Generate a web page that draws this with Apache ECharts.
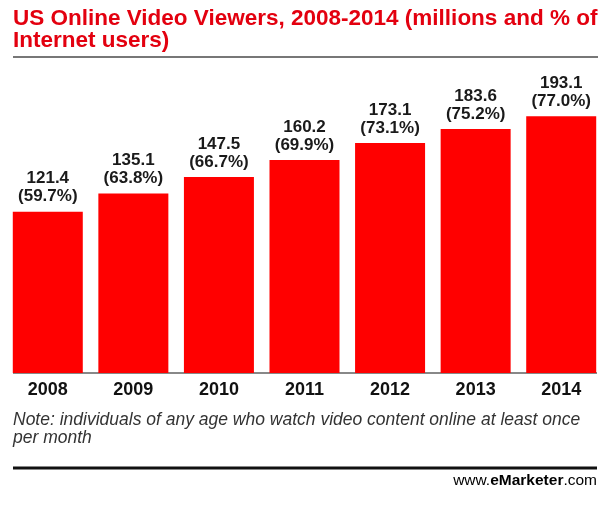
<!DOCTYPE html>
<html><head><meta charset="utf-8">
<script src="https://cdn.jsdelivr.net/npm/echarts@6/dist/echarts.min.js"></script>
<style>html,body{margin:0;padding:0;background:#fff}#c{width:610px;height:522px}</style>
</head><body><div id="c"></div>
<script>
const years = ['2008', '2009', '2010', '2011', '2012', '2013', '2014'];
const viewers = [121.4, 135.1, 147.5, 160.2, 173.1, 183.6, 193.1];
const shares = ['59.7%', '63.8%', '66.7%', '69.9%', '73.1%', '75.2%', '77.0%'];
const titleText = 'US Online Video Viewers, 2008-2014 (millions and % of\nInternet users)';
const noteText = 'Note: individuals of any age who watch video content online at least once\nper month';

const FONT = '"Liberation Sans", Arial, sans-serif';
const chart = echarts.init(document.getElementById('c'), null, {renderer: 'canvas'});
chart.setOption({
  backgroundColor: '#ffffff',
  animation: false,
  grid: {left: 5, right: 6, top: 54, bottom: 149, containLabel: false},
  xAxis: {
    type: 'category',
    data: years,
    axisLine: {show: false},
    axisTick: {show: false},
    axisLabel: {color: '#111', fontSize: 18, fontWeight: 'bold', fontFamily: FONT, margin: 8}
  },
  yAxis: {type: 'value', min: 0, max: 240, show: false, splitLine: {show: false}},
  series: [{
    type: 'bar',
    data: viewers,
    barWidth: 70,
    itemStyle: {color: '#ff0000'},
    label: {
      show: true,
      position: 'top',
      distance: 6,
      color: '#1a1a1a',
      fontSize: 17,
      fontWeight: 'bold',
      fontFamily: FONT,
      lineHeight: 18,
      formatter: p => p.value.toFixed(1) + '\n(' + shares[p.dataIndex] + ')'
    }
  }],
  graphic: [
    {type: 'text', left: 13, top: 7, style: {text: titleText, fill: '#e3000f', fontSize: 22.5, fontWeight: 'bold', fontFamily: FONT, lineHeight: 22}},
    {type: 'line', shape: {x1: 13, y1: 57, x2: 598, y2: 57}, style: {stroke: '#777', lineWidth: 2}},
    {type: 'line', shape: {x1: 13, y1: 373, x2: 597, y2: 373}, style: {stroke: '#888', lineWidth: 2}, z: -1},
    {type: 'text', left: 13, top: 411, style: {text: noteText, fill: '#333', fontSize: 17.5, fontStyle: 'italic', fontFamily: FONT, lineHeight: 18}},
    {type: 'line', shape: {x1: 13, y1: 468, x2: 597, y2: 468}, style: {stroke: '#111', lineWidth: 3}},
    {type: 'text', right: 13, top: 473, style: {
      text: '{a|www.}{b|e}{c|Marketer}{a|.com}',
      rich: {
        a: {fontSize: 15.5, color: '#333', fontFamily: FONT},
        b: {fontSize: 15.5, color: '#e3000f', fontWeight: 'bold', fontFamily: FONT},
        c: {fontSize: 15.5, color: '#111', fontWeight: 'bold', fontFamily: FONT}
      }
    }}
  ]
});
</script></body></html>
